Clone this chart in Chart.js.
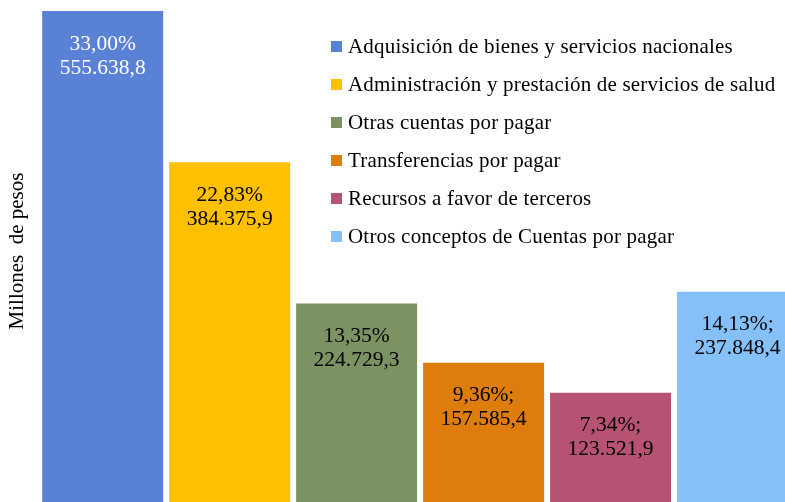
<!DOCTYPE html>
<html lang="es">
<head>
    <meta charset="UTF-8">
    <title>Cuentas por pagar</title>
    <script src="https://cdn.jsdelivr.net/npm/chart.js"></script>
    <style>
        body {
            margin: 0;
            width: 785px;
            height: 502px;
            overflow: hidden;
            background: #fff;
            font-family: 'Liberation Serif', 'Times New Roman', serif;
        }
        .wrap {
            position: relative;
            width: 801px;
            height: 502px;
        }
        #legend {
            position: absolute;
            left: 331px;
            top: 33px;
            margin: 0;
            padding: 0;
            list-style: none;
            font-size: 21px;
            letter-spacing: 0.2px;
            color: #000;
        }
        #legend li {
            height: 38px;
            line-height: 26px;
            white-space: nowrap;
        }
        #legend span {
            display: inline-block;
            width: 11px;
            height: 11px;
            margin-right: 6px;
            vertical-align: 1px;
        }
    </style>
</head>
<body>
    <div class="wrap">
        <canvas id="chart" width="801" height="502"></canvas>
        <ul id="legend"></ul>
    </div>

    <script>
        // categories and values (millones de pesos)
        const categories = [
            'Adquisición de bienes y servicios nacionales',
            'Administración y prestación de servicios de salud',
            'Otras cuentas por pagar',
            'Transferencias por pagar',
            'Recursos a favor de terceros',
            'Otros conceptos de Cuentas por pagar'
        ];
        const values = [555638.8, 384375.9, 224729.3, 157585.4, 123521.9, 237848.4];
        const pctLabels = ['33,00%', '22,83%', '13,35%', '9,36%;', '7,34%;', '14,13%;'];
        const colors = ['#5981d6', '#ffc000', '#7b9263', '#de7c0c', '#b65372', '#86c0f9'];
        const labelColors = ['#fff', '#000', '#000', '#000', '#000', '#000'];

        function fmt(v) {
            const parts = v.toFixed(1).split('.');
            return parts[0].replace(/\B(?=(\d{3})+(?!\d))/g, '.') + ',' + parts[1];
        }

        // labels inside the bars, two lines
        const barLabels = {
            id: 'barLabels',
            afterDatasetsDraw(chart) {
                const ctx = chart.ctx;
                const meta = chart.getDatasetMeta(0);
                ctx.save();
                ctx.font = '21.5px "Liberation Serif", serif';
                ctx.textAlign = 'center';
                ctx.textBaseline = 'middle';
                meta.data.forEach((bar, i) => {
                    ctx.fillStyle = labelColors[i];
                    ctx.fillText(pctLabels[i], bar.x, bar.y + 33);
                    ctx.fillText(fmt(values[i]), bar.x, bar.y + 57);
                });
                ctx.restore();
            }
        };

        new Chart(document.getElementById('chart'), {
            type: 'bar',
            data: {
                labels: categories,
                datasets: [{
                    data: values,
                    backgroundColor: colors,
                    borderWidth: 0,
                    barPercentage: 0.953,
                    categoryPercentage: 1
                }]
            },
            options: {
                responsive: false,
                animation: false,
                layout: { padding: 0 },
                plugins: {
                    legend: { display: false },
                    tooltip: { enabled: false }
                },
                scales: {
                    x: { display: false },
                    y: {
                        min: 0,
                        max: 568000,
                        ticks: { display: false },
                        grid: { display: false },
                        border: { display: false },
                        title: {
                            display: true,
                            text: 'Millones  de pesos',
                            color: '#000',
                            font: { family: 'Liberation Serif', size: 21 },
                            padding: { top: 5, bottom: 1 }
                        }
                    }
                }
            },
            plugins: [barLabels]
        });

        // legend list
        const legend = document.getElementById('legend');
        categories.forEach((c, i) => {
            const li = document.createElement('li');
            li.innerHTML = '<span style="background:' + colors[i] + '"></span>' + c;
            legend.appendChild(li);
        });
    </script>
</body>
</html>
